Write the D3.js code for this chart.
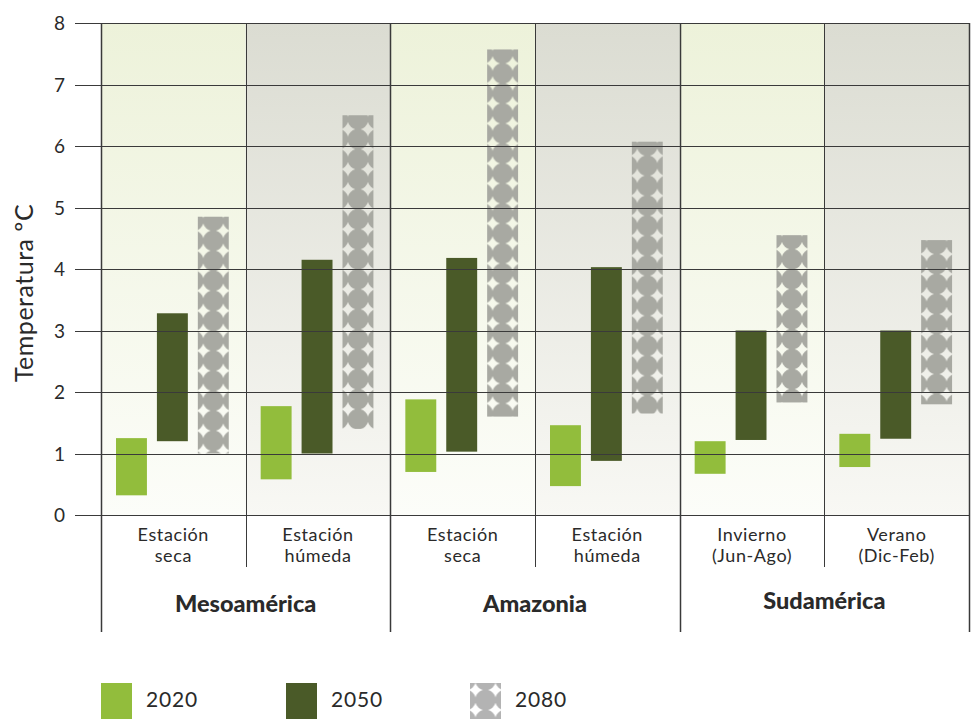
<!DOCTYPE html>
<html><head><meta charset="utf-8">
<script src="https://cdn.jsdelivr.net/npm/d3@7"></script>
<style>
body{margin:0;background:#fff;}
text{font-family:Lato,"Open Sans",sans-serif;fill:#2a2a2a;}
</style></head>
<body>
<svg id="c" width="974" height="721"></svg>
<script>
// ---- data ----
const regions = ["Mesoamérica", "Amazonia", "Sudamérica"];
const categories = ["Meso seca", "Meso húmeda", "Amaz seca", "Amaz húmeda", "Sud invierno", "Sud verano"];
const categoryLabels = [["Estación","seca"],["Estación","húmeda"],["Estación","seca"],["Estación","húmeda"],["Invierno","(Jun-Ago)"],["Verano","(Dic-Feb)"]];
const series = ["2020", "2050", "2080"];
const low2020  = [0.32, 0.58, 0.70, 0.47, 0.67, 0.78];
const high2020 = [1.25, 1.77, 1.88, 1.46, 1.20, 1.32];
const low2050  = [1.20, 1.00, 1.03, 0.88, 1.22, 1.24];
const high2050 = [3.28, 4.15, 4.18, 4.03, 3.00, 3.00];
const low2080  = [1.00, 1.40, 1.60, 1.65, 1.83, 1.80];
const high2080 = [4.85, 6.50, 7.57, 6.07, 4.55, 4.47];
const yTicks = [0,1,2,3,4,5,6,7,8];

const lows = {"2020":low2020,"2050":low2050,"2080":low2080};
const highs = {"2020":high2020,"2050":high2050,"2080":high2080};

const svg = d3.select("#c");
const L = 101, R = 969, T = 23, B = 515;
const x = d3.scaleBand().domain(categories).range([L, R]).padding(0);
const xs = d3.scaleBand().domain(series).range([0, x.bandwidth()]).paddingInner(0.244).paddingOuter(0.39).align(0.47);
const y = d3.scaleLinear().domain([0, 8]).range([B, T]);

const defs = svg.append("defs");
const gG = defs.append("linearGradient").attr("id","gGreen").attr("x1",0).attr("x2",0).attr("y1",0).attr("y2",1);
gG.append("stop").attr("offset","0%").attr("stop-color","#edf2da");
gG.append("stop").attr("offset","100%").attr("stop-color","#fcfdf9");
const gY = defs.append("linearGradient").attr("id","gGray").attr("x1",0).attr("x2",0).attr("y1",0).attr("y2",1);
gY.append("stop").attr("offset","0%").attr("stop-color","#dbdcd2");
gY.append("stop").attr("offset","100%").attr("stop-color","#f8f8f4");

const colors = {"2020":"#92bd3c","2050":"#4a5a28"};
const P = 20, RAD = 10.35;
function makePattern(id, cx, cy, col){
  const p = defs.append("pattern").attr("id", id).attr("patternUnits","userSpaceOnUse")
    .attr("width", P).attr("height", P).attr("x", cx - P/2).attr("y", cy - P/2);
  p.append("circle").attr("cx", P/2).attr("cy", P/2).attr("r", RAD).attr("fill", col);
}

// backgrounds
svg.append("g").selectAll("rect").data(categories).join("rect")
  .attr("x", d => x(d)).attr("y", T).attr("width", x.bandwidth()).attr("height", B - T)
  .attr("fill", (d,i) => i % 2 === 0 ? "url(#gGreen)" : "url(#gGray)");

// bars
const barG = svg.append("g");
categories.forEach((c, i) => {
  series.forEach(s => {
    const bx = x(c) + xs(s);
    const y1 = y(highs[s][i]), y0 = y(lows[s][i]);
    let fill = colors[s];
    if (s === "2080") {
      const id = "pat" + i;
      makePattern(id, bx + xs.bandwidth()/2, y1 + 4, "#a8a9a2");
      fill = "url(#" + id + ")";
    }
    barG.append("rect").attr("x", bx).attr("y", y1).attr("width", xs.bandwidth()).attr("height", y0 - y1).attr("fill", fill);
  });
});

// grid lines
svg.append("g").selectAll("line").data(yTicks).join("line")
  .attr("x1", 75).attr("x2", R).attr("y1", d => Math.round(y(d)) + 0.5).attr("y2", d => Math.round(y(d)) + 0.5)
  .attr("stroke", "#3a3a3a").attr("stroke-width", 1);

// y tick labels
svg.append("g").selectAll("text").data(yTicks).join("text")
  .attr("x", 65).attr("y", d => y(d) + 7).attr("text-anchor","end")
  .style("font-size","19px").text(d => d);

// vertical lines
const vg = svg.append("g").attr("stroke","#3a3a3a").attr("stroke-width",1);
vg.append("line").attr("x1", L + 0.5).attr("x2", L + 0.5).attr("y1", T).attr("y2", 632).attr("stroke-width",1.5);
categories.forEach((c, i) => {
  const xx = Math.round(x(c) + x.bandwidth()) + 0.5;
  const major = (i % 2 === 1);
  vg.append("line").attr("x1", xx).attr("x2", xx).attr("y1", T).attr("y2", major ? 632 : 567)
    .attr("stroke-width", major ? 1.5 : 1);
});

// category labels
const cl = svg.append("g");
categories.forEach((c, i) => {
  const cx = x(c) + x.bandwidth()/2;
  categoryLabels[i].forEach((t, k) => {
    cl.append("text").attr("x", cx).attr("y", 541 + k*21).attr("text-anchor","middle")
      .style("font-size","18px").style("letter-spacing","0.6px").text(t);
  });
});

// region labels
regions.forEach((r, j) => {
  const cx = x(categories[j*2]) + x.bandwidth();
  svg.append("text").attr("x", cx).attr("y", j === 2 ? 609 : 612).attr("text-anchor","middle")
    .style("font-size","23.5px").style("font-weight","900").text(r);
});

// y title
svg.append("text").attr("transform","translate(33,293) rotate(-90)").attr("text-anchor","middle")
  .style("font-size","25px").style("letter-spacing","0.5px").text("Temperatura ºC");

// legend
const legX = [101, 286, 470];
makePattern("patLeg", 470 + 15.5, 700, "#b3b3b3");
series.forEach((s, k) => {
  svg.append("rect").attr("x", legX[k]).attr("y", 683).attr("width", 31).attr("height", 36)
    .attr("fill", s === "2080" ? "url(#patLeg)" : colors[s]);
  svg.append("text").attr("x", legX[k] + 45).attr("y", 707).style("font-size","21px").style("letter-spacing","0.8px").text(s);
});
</script>
</body></html>
